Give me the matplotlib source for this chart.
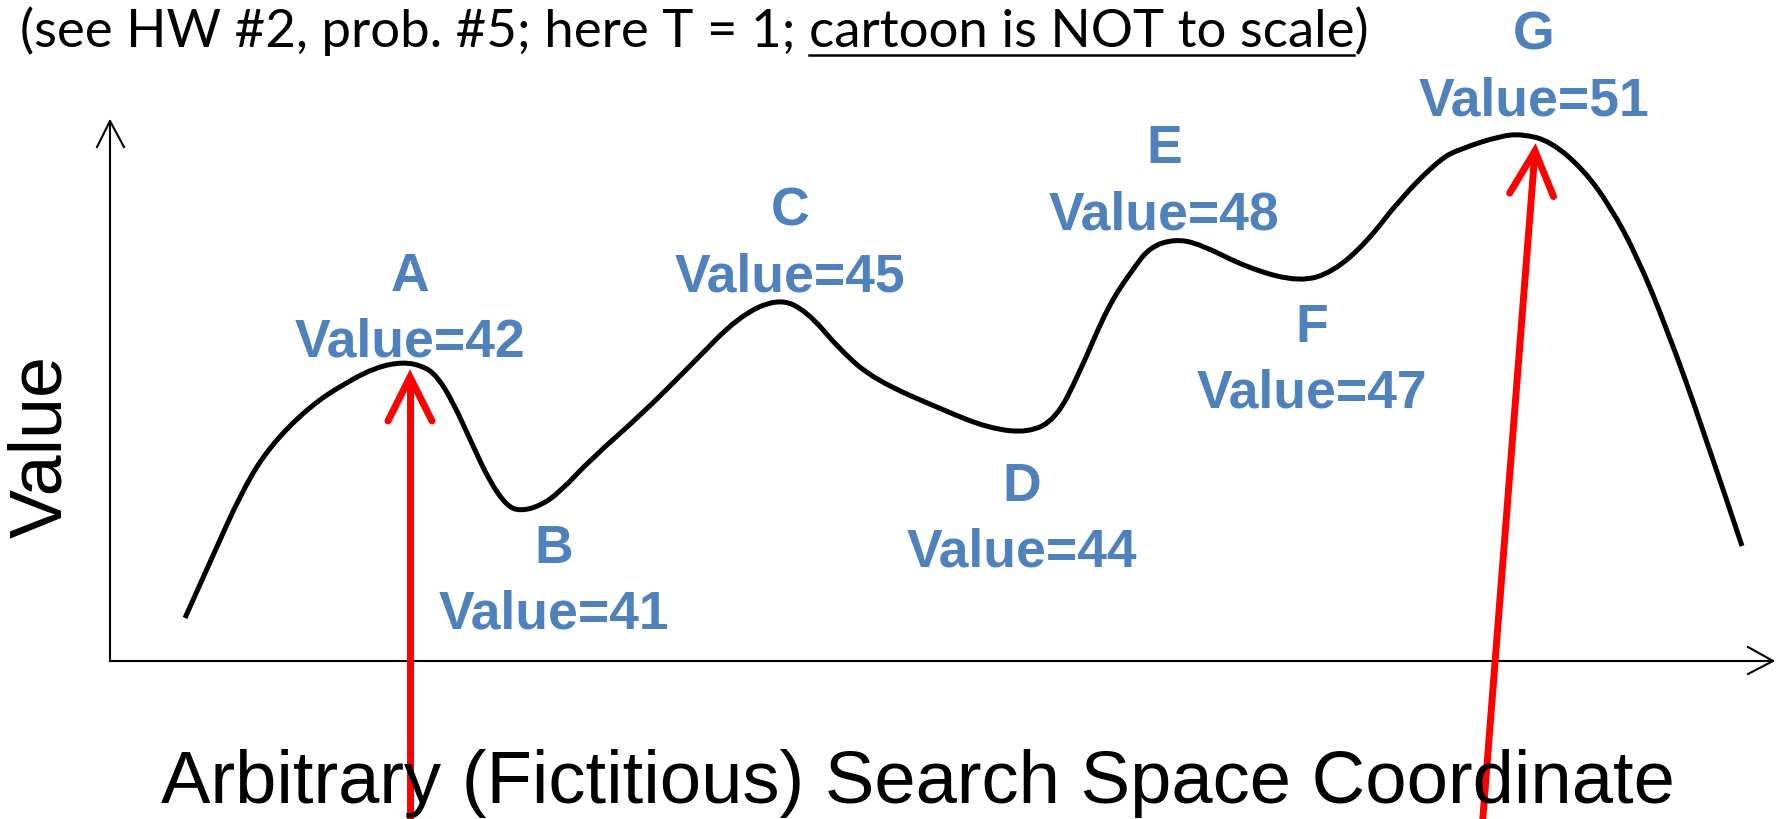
# Cartoon of a search-space landscape with labelled peaks / valleys
import matplotlib.pyplot as plt
from matplotlib.path import Path
from matplotlib.patches import PathPatch

W, H = 1781, 820

# Curve (pixel-like cartoon coordinates, y downwards)
curve_x = [185, 210, 243, 270, 310, 347, 377, 403, 423, 437, 453, 473, 490, 507, 520,
           540, 560, 591, 642, 693, 738, 778, 807, 841, 875, 943, 988, 1028, 1056,
           1079, 1108, 1133, 1150, 1175, 1200, 1250, 1300, 1333, 1367, 1400, 1440,
           1460, 1500, 1522, 1550, 1583, 1610, 1637, 1667, 1703, 1742]
curve_y = [619, 563, 490, 447, 407, 383, 368, 363, 367, 377, 403, 447, 483, 507, 512,
           507, 493, 460, 415, 364, 318, 299, 312, 352, 381, 411, 429, 434, 420,
           375, 307, 270, 248, 240, 245, 270, 283, 273, 243, 200, 160,
           150, 137, 135, 142, 170, 207, 257, 330, 430, 547]

# Labelled points
names = ["A", "B", "C", "D", "E", "F", "G"]
values = [42, 41, 45, 44, 48, 47, 51]
label_x = [410, 554, 790, 1022, 1164, 1312, 1534]
label_y = [277, 549, 212, 487, 149, 328, 36]

# Red arrows (tip, tail)
arrow_tips = [(410, 378), (1535, 152)]
arrow_tails = [(410, 830), (1482, 830)]

top_text = "(see HW #2, prob. #5; here T = 1; cartoon is NOT to scale)"
blue = "#4F81BD"

fig = plt.figure(figsize=(W / 100, H / 100), dpi=100)
ax = fig.add_axes([0, 0, 1, 1])
ax.set_xlim(0, W)
ax.set_ylim(H, 0)
ax.axis("off")

# axes with open arrow heads
ax.plot([110, 110], [662, 122], color="black", lw=1.5)
ax.plot([97, 110, 124], [148, 122, 148], color="black", lw=1.5)
ax.plot([110, 1773], [662, 662], color="black", lw=1.5)
ax.plot([1748, 1773, 1748], [648, 662, 675], color="black", lw=1.5)

# smooth curve (quadratic segments through midpoints)
pts = list(zip(curve_x, curve_y))
verts = [pts[0]]
codes = [Path.MOVETO]
n = len(pts)
for i in range(1, n - 1):
    if i == n - 2:
        end = pts[i + 1]
    else:
        end = ((pts[i][0] + pts[i + 1][0]) / 2, (pts[i][1] + pts[i + 1][1]) / 2)
    verts += [pts[i], end]
    codes += [Path.CURVE3, Path.CURVE3]
ax.add_patch(PathPatch(Path(verts, codes), fill=False, lw=3.6, edgecolor="black"))

# labels
for nm, v, x, y in zip(names, values, label_x, label_y):
    ax.text(x, y, nm, color=blue, fontsize=38.5, fontweight="bold",
            family="Liberation Sans", ha="center", va="center")
    ax.text(x, y + 66, "Value=%d" % v, color=blue, fontsize=38.5, fontweight="bold",
            family="Liberation Sans", ha="center", va="center")

# red arrows
for (tx, ty), (bx, by) in zip(arrow_tips, arrow_tails):
    ax.plot([bx, tx], [by, ty], color="red", lw=5, solid_capstyle="butt")
    dx, dy = tx - bx, ty - by
    ln = (dx ** 2 + dy ** 2) ** 0.5
    ux, uy = dx / ln, dy / ln
    hl, hw = 44, 22
    p1 = (tx - ux * hl - uy * hw, ty - uy * hl + ux * hw)
    p2 = (tx - ux * hl + uy * hw, ty - uy * hl - ux * hw)
    ax.plot([p1[0], tx, p2[0]], [p1[1], ty, p2[1]], color="red", lw=5,
            solid_capstyle="round", solid_joinstyle="miter")

# axis titles
ax.text(42, 447, "Value", rotation=90, fontsize=53, family="Liberation Sans",
        ha="center", va="center")
ax.text(918, 803, "Arbitrary (Fictitious) Search Space Coordinate", fontsize=53.5,
        family="Liberation Sans", ha="center", va="baseline")

# top note with underlined part
tx0, tbase, tfs = 20, 47, 38
ax.text(tx0, tbase, top_text, fontsize=tfs, family="Lato", ha="left", va="baseline")
fig.canvas.draw()
r = fig.canvas.get_renderer()


def ink_width(s):
    t = ax.text(0, 0, s, fontsize=tfs, family="Lato", alpha=0)
    bb = t.get_window_extent(r)
    t.remove()
    return bb.width


k1 = top_text.index("cartoon")
k2 = top_text.index(")", k1)
u0 = tx0 + ink_width(top_text[:k1 + 1]) - ink_width("c")
u1 = tx0 + ink_width(top_text[:k2])
ax.plot([u0, u1], [tbase + 9, tbase + 9], color="black", lw=1.8)

fig.savefig("out.png", dpi=100)
